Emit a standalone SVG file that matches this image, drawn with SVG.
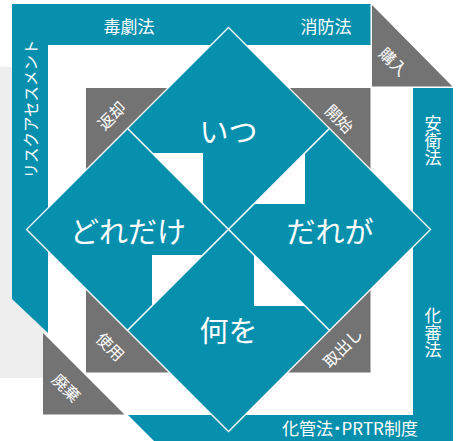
<svg xmlns="http://www.w3.org/2000/svg" width="461" height="441" viewBox="0 0 461 441">
<style>
.teal{fill:#0790ad}
.gray{fill:#737373}
.dia{fill:#0790ad;stroke:#ffffff;stroke-width:1.3;stroke-linejoin:miter}
.t{font-family:"Noto Sans CJK JP","Noto Sans",sans-serif;fill:#ffffff;text-anchor:middle;dominant-baseline:central}
.s{font-size:17px}
.m{font-size:16px}
.b{font-size:29px}
.v{writing-mode:vertical-rl;text-orientation:upright;font-size:17px}
</style>
<rect x="0" y="0" width="461" height="441" fill="#ffffff"/>
<rect x="0" y="67" width="46" height="311" fill="#eeeeee"/>
<g id="frame">
<rect class="teal" x="12" y="4" width="358.5" height="41"/>
<polygon class="teal" points="12,4 48,4 48,333 12,299"/>
<polygon id="kounyu-tri" class="gray" points="372,5 372,86.5 452.5,86.5"/>
<rect class="teal" x="413" y="88" width="40" height="353"/>
<polygon class="teal" points="128,415 453,415 453,441 154,441"/>
<polygon class="gray" points="43,333 43,414.5 124.5,414.5"/>
</g>
<rect id="inner-square" class="gray" x="86" y="88" width="284.5" height="284.5"/>
<g id="node-itsu"><polygon class="dia" points="228.5,27.5 329.5,128.5 228.5,229.5 127.5,128.5"/></g>
<g id="node-doredake"><polygon class="dia" points="127.5,128.5 228.5,229.5 127.5,330.5 26.5,229.5"/></g>
<g id="node-darega"><polygon class="dia" points="329.5,128.5 430.5,229.5 329.5,330.5 228.5,229.5"/></g>
<g id="node-naniwo"><polygon class="dia" points="228.5,229.5 329.5,330.5 228.5,431.5 127.5,330.5"/></g>
<g id="notches" fill="#ffffff">
<polygon points="152,153 203,153 203,204"/>
<polygon points="305,153 305,204 254,204"/>
<polygon points="254,255 254,306 305,306"/>
<polygon points="152,255 203,255 152,306"/>
</g>
<g id="labels">
<text class="t b" x="228.5" y="130">いつ</text>
<text class="t b" x="128" y="230">どれだけ</text>
<text class="t b" x="330" y="230">だれが</text>
<text class="t b" x="228.5" y="329">何を</text>
<text class="t s" x="129" y="25">毒劇法</text>
<text class="t s" x="326" y="25">消防法</text>
<text class="t" style="font-size:15.5px" transform="translate(30,109) rotate(-90)">リスクアセスメント</text>
<text class="t m" transform="translate(394,61) rotate(45)">購入</text>
<text class="t v" x="433" y="140.5">安衛法</text>
<text class="t v" x="433" y="333">化審法</text>
<text class="t s" x="350" y="427" style="font-feature-settings:'palt'">化管法・PRTR制度</text>
<text class="t m" transform="translate(111,115) rotate(-45)">返却</text>
<text class="t m" transform="translate(340,118) rotate(45)">開始</text>
<text class="t m" transform="translate(111,346) rotate(45)">使用</text>
<text class="t m" transform="translate(342,347) rotate(-45)">取出し</text>
<text class="t m" transform="translate(67,387) rotate(45)">廃棄</text>
</g>
</svg>
